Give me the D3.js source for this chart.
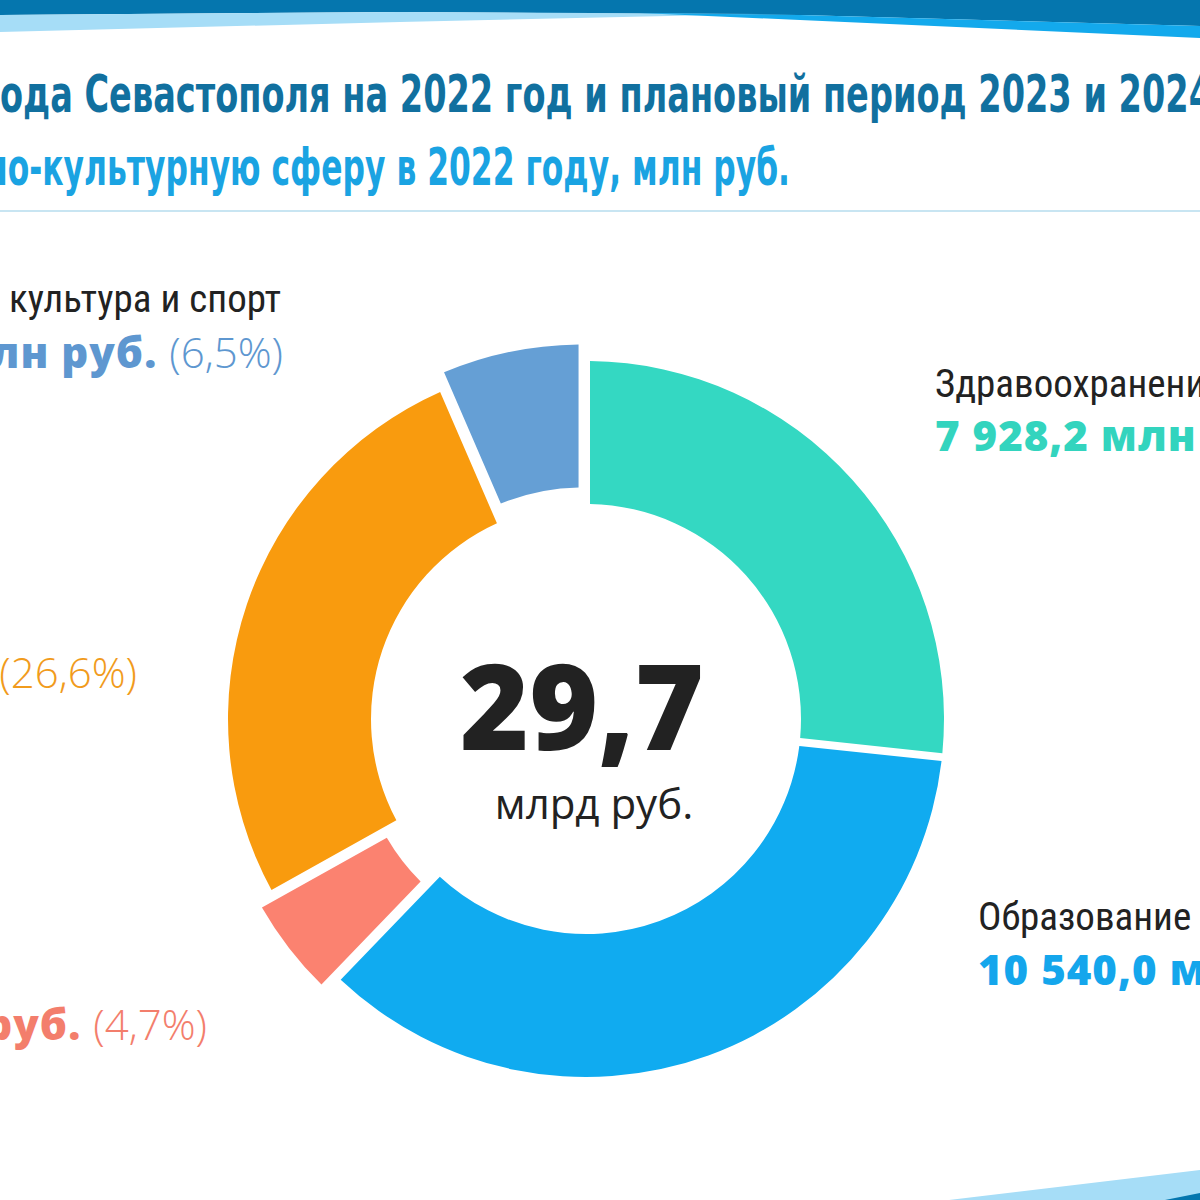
<!DOCTYPE html>
<html><head><meta charset="utf-8">
<script src="https://cdn.jsdelivr.net/npm/d3@7"></script>
<style>html,body{margin:0;padding:0;background:#fff;}svg{display:block;}</style>
</head><body>
<script>
// ---- data ----
const categories = ["Здравоохранение", "Образование", "Культура", "Социальная политика", "Физическая культура и спорт"];
const values = [7928.2, 10540.0, 1395.9, 7900.2, 1930.5];
const titleLines = ["ода Севастополя на 2022 год и плановый период 2023 и 2024", "но-культурную сферу в 2022 году, млн руб."];
const totalUnit = "млрд руб.";

// ---- styles ----
const sliceColors = ["#34d8c2", "#10abf0", "#fb8270", "#f99b0e", "#659fd5"];
const textColors = ["#33d4be", "#14a6ec", "#f37e6c", "#f19b1c", "#5e97d0"];
const exploded = [0, 0, 17, 0, 17];

const W = 1200, H = 1200;
const svg = d3.select("body").append("svg").attr("width", W).attr("height", H);
svg.append("rect").attr("width", W).attr("height", H).attr("fill", "#fff");

// banner
svg.append("path").attr("fill", "#0576ae")
  .attr("d", "M0,0 H1200 V26 L800,15 L400,12 L0,15 Z");
svg.append("path").attr("fill", "#a6ddf7")
  .attr("d", "M0,15 L400,12 L760,14 L400,22 L0,32 Z");
svg.append("path").attr("fill", "#13a9ec")
  .attr("d", "M640,13 L800,15 L1200,26 L1200,38 L800,20 Z");
svg.append("path").attr("fill", "#a6ddf7")
  .attr("d", "M949,1200 L1200,1170 L1200,1200 Z");
svg.append("path").attr("fill", "#0576ae")
  .attr("d", "M1165,1200 L1200,1193 L1200,1200 Z");

// title
const tfont = "'Liberation Sans Narrow','DejaVu Sans Condensed','Roboto',sans-serif";
svg.append("text").attr("x", 0).attr("y", 112)
  .attr("font-family", tfont).attr("font-weight", 700).attr("font-size", 51)
  .attr("fill", "#11709f").attr("textLength", 1212).attr("lengthAdjust", "spacingAndGlyphs")
  .text(titleLines[0]);
svg.append("text").attr("x", -14).attr("y", 185)
  .attr("font-family", tfont).attr("font-weight", 700).attr("font-size", 51)
  .attr("fill", "#1aa3e2").attr("textLength", 804).attr("lengthAdjust", "spacingAndGlyphs")
  .text(titleLines[1]);
svg.append("line").attr("x1", 0).attr("x2", W).attr("y1", 211).attr("y2", 211)
  .attr("stroke", "#c8e5f2").attr("stroke-width", 2);

// donut
const cx = 586, cy = 719, R = 358, r = 215;
const pie = d3.pie().sort(null).value(d => d);
const arcs = pie(values);
const arc = d3.arc().innerRadius(r).outerRadius(R).padRadius(300).padAngle(8 / 300);
const g = svg.append("g").attr("transform", `translate(${cx},${cy})`);
g.selectAll("path").data(arcs).join("path")
  .attr("d", arc)
  .attr("fill", (d, i) => sliceColors[i])
  .attr("transform", (d, i) => {
    const a = (d.startAngle + d.endAngle) / 2;
    const k = exploded[i];
    return `translate(${k * Math.sin(a)},${-k * Math.cos(a)})`;
  });

// center text
const total = d3.sum(values);
const fmt1 = v => d3.format(".1f")(v).replace(".", ",");
svg.append("text").attr("x", 582).attr("y", 750).attr("text-anchor", "middle")
  .attr("font-family", "'Open Sans',sans-serif").attr("font-weight", 800).attr("font-size", 118)
  .attr("fill", "#222").text(fmt1(total / 1000));
svg.append("text").attr("x", 594).attr("y", 819).attr("text-anchor", "middle")
  .attr("font-family", "'Open Sans',sans-serif").attr("font-weight", 400).attr("font-size", 42)
  .attr("fill", "#222").text(totalUnit);

// labels
const nfmt = v => {
  const s = d3.format(",.1f")(v);
  return s.replace(/,/g, " ").replace(".", ",");
};
const pct = v => fmt1(v / total * 100) + "%";
const nameFont = "'Roboto Condensed','Liberation Sans Narrow','Roboto',sans-serif";
const valFont = "'Open Sans',sans-serif";
const labelPos = [
  {side: "right", x: 935, yn: 397, yv: 451},
  {side: "right", x: 978, yn: 930, yv: 985},
  {side: "left", x: 207, yn: 986, yv: 1040},
  {side: "left", x: 137, yn: 634, yv: 688},
  {side: "left", x: 283, yn: 312, yv: 368}
];
categories.forEach((c, i) => {
  const p = labelPos[i];
  const vt = svg.append("text").attr("y", p.yv)
    .attr("font-family", valFont).attr("font-size", 42).attr("fill", textColors[i]);
  vt.append("tspan").attr("font-weight", 800).attr("letter-spacing", 1).text(nfmt(values[i]) + " млн руб. ");
  vt.append("tspan").attr("font-weight", 300).text("(" + pct(values[i]) + ")");
  let x0 = p.x;
  if (p.side === "left") {
    const w = vt.node().getComputedTextLength();
    x0 = p.x - w;
  }
  vt.attr("x", x0);
  const nt = svg.append("text").attr("y", p.yn)
    .attr("font-family", nameFont).attr("font-size", 39).attr("fill", "#222").text(c);
  if (i === 4) nt.attr("x", 281).attr("text-anchor", "end");
  else nt.attr("x", x0);
});
</script>
</body></html>
